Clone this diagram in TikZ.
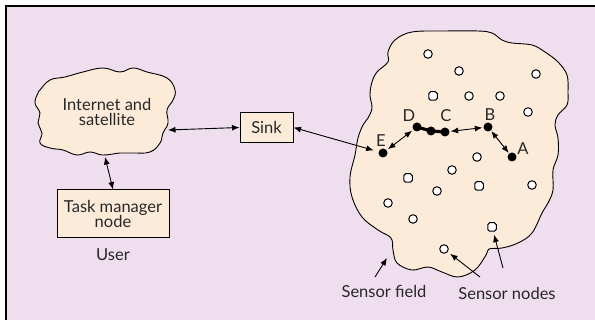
\documentclass[tikz,border=0pt]{standalone}
\usepackage{fontspec}
\setmainfont{Lato}
\usetikzlibrary{arrows.meta}
\definecolor{bgl}{RGB}{238,222,238}
\definecolor{peach}{RGB}{253,235,218}
\definecolor{txt}{RGB}{40,40,40}
\tikzset{
  lbl/.style={font=\fontsize{16.5}{15.5}\selectfont, text=txt, inner sep=0pt, align=center},
  boxn/.style={draw=black, line width=1pt, fill=peach, inner sep=0pt, lbl},
  outl/.style={draw=black, line width=0.9pt, fill=peach},
  sc/.style={circle, draw=black, line width=1pt, fill=white, minimum size=8.5pt, inner sep=0pt},
  ss/.style={rectangle, rounded corners=1.8pt, draw=black, line width=1pt, fill=white, minimum size=8.5pt, inner sep=0pt},
  dot/.style={circle, fill=black, minimum size=9pt, inner sep=0pt},
  arr/.style={line width=0.9pt, -{Latex[length=7.5pt,width=6pt]}},
  dbl/.style={line width=0.9pt, {Latex[length=7.5pt,width=6pt]}-{Latex[length=7.5pt,width=6pt]}},
}
\begin{document}
\begin{tikzpicture}[x=1pt,y=-1pt]
\useasboundingbox (0,0) rectangle (595,320);
\fill[bgl] (6,6) rectangle (595,320);
\draw[line width=1.4pt] (6,320) -- (6,6) -- (595,6);

% Internet cloud
\draw[outl] plot[smooth cycle, tension=0.7] coordinates {
 (40,90) (50,80) (65,77) (83,72) (103,68) (120,72) (133,68) (147,72) (167,78)
 (175,90) (173,100) (167,110) (168,123) (163,133) (160,143) (150,152) (133,153)
 (120,153) (103,155) (90,152) (77,155) (63,150) (50,148) (40,143) (42,133)
 (38,123) (40,113) (35,103) (38,93)};
\node[lbl] (inet) at (107,112) {Internet and\\satellite};
\coordinate (inetR) at (168,130);
\coordinate (inetB) at (105,157);

\node[boxn, minimum width=53pt, minimum height=30pt] (sink) at (266.5,127.5) {Sink};
\node[boxn, minimum width=112pt, minimum height=48pt] (task) at (113,214) {Task manager\\node};
\node[lbl] (user) at (113,255) {User};

% Sensor field
\draw[outl] plot[smooth cycle, tension=0.6] coordinates {
 (395,40) (412,32) (445,31) (478,31) (492,33) (502,40) (512,43) (532,45)
 (545,52) (558,62) (567,75) (568,92) (567,105) (558,115) (555,125) (558,138)
 (558,155) (553,170) (553,190) (548,203) (542,213) (532,233) (518,243) (502,248)
 (489,249) (486,255) (475,270) (458,277) (442,272) (428,267) (412,270) (397,263)
 (393,250) (391,238) (378,230) (362,217) (352,197) (350,177) (355,155) (358,138)
 (363,125) (368,118) (372,108) (370,95) (372,82) (377,72) (388,62) (388,52)};

% sensor nodes
\node[sc] (s1) at (428,54) {};
\node[sc] (s2) at (459,71) {};
\node[sc] (s3) at (536,74) {};
\node[ss] (s4) at (433,96) {};
\node[sc] (s5) at (469,96) {};
\node[sc] (s6) at (500,96) {};
\node[sc] (s7) at (528,112) {};
\node[sc] (s8) at (477,157) {};
\node[sc] (s9) at (452,170) {};
\node[ss] (s10) at (408,178) {};
\node[sc] (s11) at (437,191) {};
\node[ss] (s12) at (479,186) {};
\node[sc] (s13) at (532,185) {};
\node[sc] (s14) at (388,203) {};
\node[sc] (s15) at (413,219) {};
\node[ss] (s16) at (492,227) {};
\node[sc] (s17) at (444,249) {};

% routing path
\node[dot] (E) at (383,153) {};
\node[dot] (D) at (417,127) {};
\node[dot] (M) at (431,131) {};
\node[dot] (C) at (445,132) {};
\node[dot] (B) at (488,127) {};
\node[dot] (A) at (512,157) {};
\node[lbl] (lE) at (381,141) {E};
\node[lbl] (lD) at (409,116) {D};
\node[lbl] (lC) at (446,116) {C};
\node[lbl] (lB) at (490,115) {B};
\node[lbl] (lA) at (523,149) {A};

\draw[line width=3.2pt] (D.center) -- (M.center) -- (C.center);
\draw[dbl, shorten <=1.5pt, shorten >=1.5pt] (E) -- (D);
\draw[dbl, shorten <=1pt, shorten >=1pt] (C) -- (B);
\draw[dbl, shorten <=0.5pt, shorten >=0.5pt] (B) -- (A);

% links
\draw[dbl] (inetR) -- (sink.west);
\draw[dbl] (inetB) -- (task.north);
\draw[dbl, shorten >=5pt] (sink.east) -- (E);

% labels with arrows
\node[lbl] (lsf) at (384,291) {Sensor field};
\node[lbl] (lsn) at (507,293) {Sensor nodes};
\coordinate (sfT) at (375,277);
\coordinate (sfH) at (387,258);
\draw[arr] (sfT) -- (sfH);
\coordinate (sn1) at (480,277);
\coordinate (sn2) at (503,268);
\draw[arr, shorten >=3pt] (sn1) -- (s17);
\draw[arr, shorten >=3pt] (sn2) -- (s16);
\end{tikzpicture}
\end{document}
